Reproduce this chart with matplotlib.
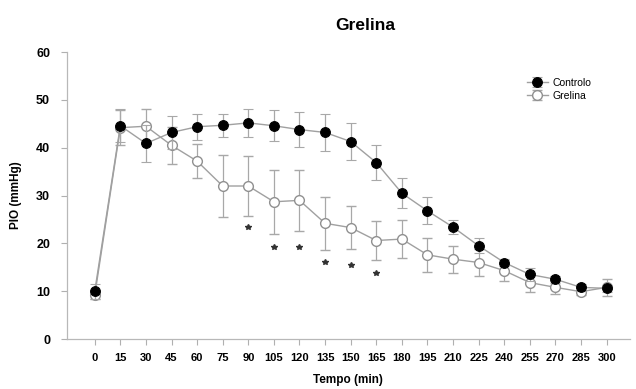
import matplotlib
matplotlib.use("Agg")
import matplotlib.pyplot as plt
import numpy as np

plt.rcParams['font.family'] = ['Liberation Sans', 'DejaVu Sans']

tempo = [0, 15, 30, 45, 60, 75, 90, 105, 120, 135, 150, 165, 180, 195, 210, 225, 240, 255, 270, 285, 300]
controlo = [10.0, 44.6, 40.9, 43.2, 44.4, 44.7, 45.2, 44.6, 43.8, 43.2, 41.3, 36.9, 30.5, 26.8, 23.4, 19.5, 16.0, 13.5, 12.5, 10.8, 10.6]
controlo_err = [1.6, 3.5, 3.8, 3.4, 2.7, 2.4, 2.9, 3.2, 3.7, 3.9, 3.9, 3.7, 3.2, 2.8, 1.4, 1.6, 0.8, 1.3, 0.7, 0.7, 0.8]
grelina = [9.2, 44.2, 44.5, 40.5, 37.2, 32.0, 32.0, 28.7, 29.0, 24.2, 23.3, 20.6, 20.9, 17.6, 16.7, 16.0, 14.3, 11.8, 10.8, 9.9, 10.8]
grelina_err = [0.8, 3.6, 3.6, 3.8, 3.5, 6.5, 6.2, 6.7, 6.4, 5.5, 4.5, 4.0, 4.0, 3.5, 2.8, 2.8, 2.2, 2.0, 1.3, 0.7, 1.7]
sig_tempo = [90, 105, 120, 135, 150, 165]
sig_y = [23.5, 19.3, 19.3, 16.2, 15.4, 13.9]

fig = plt.figure(figsize=(6.36, 3.89), dpi=100)
ax = fig.add_axes([0.105, 0.1285, 0.885, 0.7375])

line_c = '#a0a0a0'
ax.errorbar(tempo, grelina, yerr=grelina_err, color=line_c, lw=1.0, ecolor='#a8a8a8',
            elinewidth=0.9, capsize=3.5, capthick=0.9, marker='o', markersize=7,
            markerfacecolor='white', markeredgecolor='#909090', markeredgewidth=1.0,
            label='Grelina', zorder=3)
ax.errorbar(tempo, controlo, yerr=controlo_err, color=line_c, lw=1.0, ecolor='#a8a8a8',
            elinewidth=0.9, capsize=3.5, capthick=0.9, marker='o', markersize=7,
            markerfacecolor='black', markeredgecolor='black', markeredgewidth=0.8,
            label='Controlo', zorder=4)

ax.plot(sig_tempo, sig_y, linestyle='none', marker='*', markersize=4, color='#333333', zorder=5)

ax.set_xlim(-16.4, 313.5)
ax.set_ylim(0, 60)
ax.set_xticks(tempo)
ax.set_xticklabels([str(t) for t in tempo], fontsize=8, fontweight='bold')
ax.set_yticks([0, 10, 20, 30, 40, 50, 60])
ax.set_yticklabels(['0', '10', '20', '30', '40', '50', '60'], fontsize=9, fontweight='bold')
ax.tick_params(axis='both', colors='#b0b0b0', length=4, width=0.8, labelcolor='black')
ax.tick_params(axis='x', pad=6)
ax.tick_params(axis='y', pad=8)
for s in ['top', 'right']:
    ax.spines[s].set_visible(False)
for s in ['left', 'bottom']:
    ax.spines[s].set_color('#b8b8b8')
    ax.spines[s].set_linewidth(0.9)

ax.set_xlabel('Tempo (min)', fontsize=8.5, fontweight='bold', labelpad=8)
ax.set_ylabel('PIO (mmHg)', fontsize=8.5, fontweight='bold', labelpad=10)
fig.text(0.574, 0.935, 'Grelina', fontsize=12.5, fontweight='bold', ha='center', va='center')

handles, labels = ax.get_legend_handles_labels()
leg = ax.legend(handles[::-1], labels[::-1], loc='upper left', bbox_to_anchor=(0.81, 0.925),
                frameon=False, fontsize=7.5, handlelength=2.0, handletextpad=0.5,
                labelspacing=0.3, borderaxespad=0)

fig.savefig('out.png', dpi=100)
